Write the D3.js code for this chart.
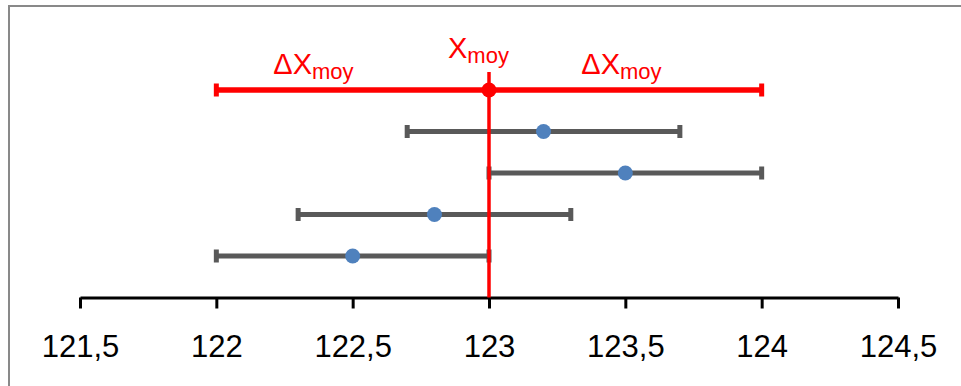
<!DOCTYPE html>
<html lang="fr">
<head>
<meta charset="UTF-8">
<title>Xmoy</title>
<script src="https://cdn.jsdelivr.net/npm/d3@7"></script>
<style>
  body { margin: 0; background: #fff; font-family: 'Liberation Sans', Arial, sans-serif; }
  .axis .domain { stroke: #000; stroke-width: 3px; }
  .axis .tick line { stroke: #000; stroke-width: 3px; }
  .axis .tick text { font-size: 31px; fill: #000; font-family: 'Liberation Sans', Arial, sans-serif; }
</style>
</head>
<body>
<svg id="chart" width="961" height="386"></svg>
<script>
// mesures : valeur, incertitude, rang (du haut vers le bas)
var mesures = [123.2, 123.5, 122.8, 122.5];
var incertitudes = [0.5, 0.5, 0.5, 0.5];
var rangs = [4, 3, 2, 1];

// moyenne et incertitude moyenne
var xMoy = 123;
var deltaXMoy = 1;
var rangMoy = 5;

var ticks = [121.5, 122, 122.5, 123, 123.5, 124, 124.5];

var svg = d3.select("#chart");

// cadre gris (coupé à droite et en bas)
svg.append("rect")
    .attr("x", 9).attr("y", 6)
    .attr("width", 1000).attr("height", 500)
    .attr("fill", "none")
    .attr("stroke", "#898989")
    .attr("stroke-width", 2);

var x = d3.scaleLinear()
    .domain([121.5, 124.5])
    .range([80, 898]);

var y = d3.scaleLinear()
    .domain([0, 6])
    .range([297.5, 48.5]);

var xAxis = d3.axisBottom(x)
    .tickValues(ticks)
    .tickSizeInner(11)
    .tickSizeOuter(0)
    .tickPadding(26)
    .tickFormat(function (d) { return String(d).replace(".", ","); });

svg.append("g")
    .attr("class", "axis")
    .attr("transform", "translate(0," + y(0) + ")")
    .call(xAxis);

var gris = "#595959", bleu = "#4F81BD", rouge = "#FF0000";

// barres d'erreur grises
var rows = mesures.map(function (m, i) {
    return {v: m, e: incertitudes[i], r: rangs[i]};
});

var g = svg.append("g");

g.selectAll(".bar")
    .data(rows)
    .enter().append("line")
    .attr("x1", function (d) { return x(d.v - d.e); })
    .attr("x2", function (d) { return x(d.v + d.e); })
    .attr("y1", function (d) { return y(d.r); })
    .attr("y2", function (d) { return y(d.r); })
    .attr("stroke", gris)
    .attr("stroke-width", 5);

rows.forEach(function (d) {
    [d.v - d.e, d.v + d.e].forEach(function (b) {
        g.append("rect")
            .attr("x", x(b) - 2.5).attr("y", y(d.r) - 6.5)
            .attr("width", 5).attr("height", 13)
            .attr("fill", gris);
    });
});

// ligne verticale de la moyenne
svg.append("line")
    .attr("x1", x(xMoy)).attr("x2", x(xMoy))
    .attr("y1", 72).attr("y2", y(0))
    .attr("stroke", rouge)
    .attr("stroke-width", 3.5);

g.selectAll(".pt")
    .data(rows)
    .enter().append("circle")
    .attr("cx", function (d) { return x(d.v); })
    .attr("cy", function (d) { return y(d.r); })
    .attr("r", 7.5)
    .attr("fill", bleu);

// barre rouge de la moyenne
svg.append("line")
    .attr("x1", x(xMoy - deltaXMoy)).attr("x2", x(xMoy + deltaXMoy))
    .attr("y1", y(rangMoy)).attr("y2", y(rangMoy))
    .attr("stroke", rouge)
    .attr("stroke-width", 5.5);

[xMoy - deltaXMoy, xMoy + deltaXMoy].forEach(function (b) {
    svg.append("rect")
        .attr("x", x(b) - 2.5).attr("y", y(rangMoy) - 6.5)
        .attr("width", 5).attr("height", 13)
        .attr("fill", rouge);
});

svg.append("circle")
    .attr("cx", x(xMoy)).attr("cy", y(rangMoy))
    .attr("r", 7.5)
    .attr("fill", rouge);

// étiquettes
function label(px, py, main, sub) {
    var t = svg.append("text")
        .attr("x", px).attr("y", py)
        .attr("fill", rouge)
        .style("font-size", "29px");
    t.append("tspan").text(main);
    t.append("tspan").attr("dy", 5).style("font-size", "22px").text(sub);
}

label(x(xMoy - deltaXMoy) + 57, 73.5, "ΔX", "moy");
label(x(xMoy) - 41, 58, "X", "moy");
label(x(xMoy + deltaXMoy / 2) - 44, 73.5, "ΔX", "moy");
</script>
</body>
</html>
